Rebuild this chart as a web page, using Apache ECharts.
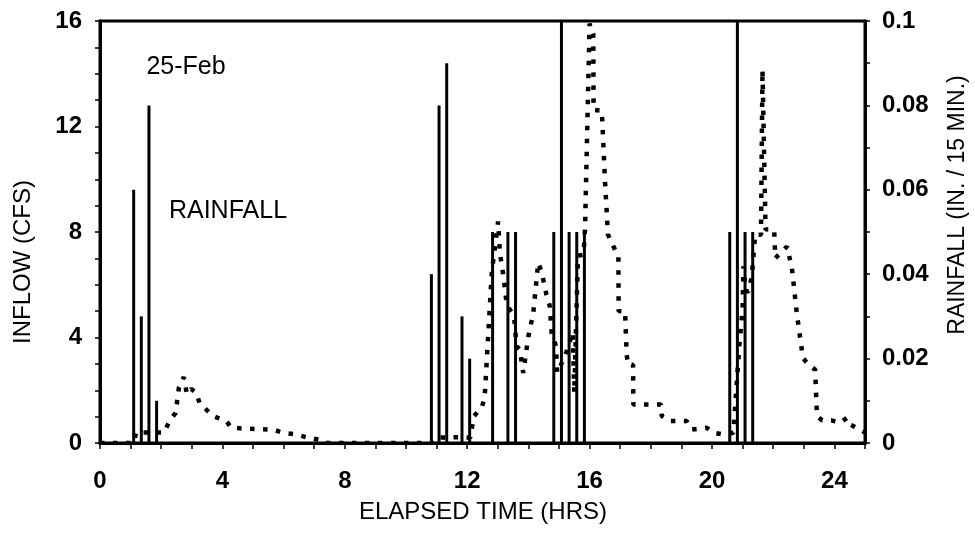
<!DOCTYPE html>
<html>
<head>
<meta charset="utf-8">
<script src="https://cdn.jsdelivr.net/npm/echarts@6/dist/echarts.min.js"></script>
<style>
  html, body { margin: 0; padding: 0; background: #fff; }
  #chart { width: 975px; height: 538px; }
</style>
</head>
<body>
<div id="chart"></div>
<script>
// Storm of 25-Feb: rainfall per 15-minute interval and runoff inflow hydrograph.

// Rainfall pulses: elapsed time (hrs) and depth (in. / 15 min.)
const rainTimes  = [1.10, 1.35, 1.60, 1.85,
                    10.83, 11.08, 11.33, 11.83, 12.08, 12.83, 13.33, 13.58,
                    14.83, 15.08, 15.33, 15.58, 15.83,
                    20.58, 20.83, 21.08, 21.33];
const rainDepths = [0.06, 0.03, 0.08, 0.01,
                    0.04, 0.08, 0.09, 0.03, 0.02, 0.05, 0.05, 0.05,
                    0.05, 0.10, 0.05, 0.05, 0.05,
                    0.05, 0.10, 0.05, 0.05];

// Inflow hydrograph: elapsed time (hrs) and flow (cfs)
const flowTimes = [0, 1.10, 1.18, 2.10, 2.27, 2.47, 2.58, 2.74, 2.84, 2.98, 3.15, 3.25, 3.47, 3.69,
  4.13, 4.29, 4.78, 5.65, 5.98, 6.42, 6.80, 7.16, 7.35, 10.85, 11.00, 11.60, 12.10,
  12.22, 12.47, 12.57, 12.80, 12.88, 13.01, 13.07, 13.20, 13.29, 13.45, 13.55, 13.61, 13.72, 13.83,
  14.00, 14.16, 14.32, 14.43, 14.59, 14.70, 14.76, 14.90, 14.94, 15.20, 15.45, 15.50, 15.56,
  15.62, 15.80, 15.85, 16.00, 16.12, 16.13, 16.40, 16.50, 16.60, 16.80, 16.94, 16.95, 17.16,
  17.21, 17.26, 17.42, 17.43, 18.33, 18.36, 18.63, 19.17, 19.34, 19.83, 20.05, 20.37, 20.70,
  20.89, 21.00, 21.03, 21.10, 21.20, 21.30, 21.41, 21.60, 21.65, 21.75, 22.03, 22.07, 22.45,
  22.61, 22.77, 22.97, 23.15, 23.37, 23.43, 23.60, 23.90, 24.19, 24.41, 24.52, 24.84, 25.00];
const flowValues = [0, 0, 0.40, 0.40, 0.83, 1.14, 2.10, 2.50, 1.85, 2.05, 1.90, 1.52, 1.27, 1.02,
  0.83, 0.58, 0.54, 0.51, 0.39, 0.32, 0.20, 0.13, 0, 0, 0.20, 0.22, 0.20,
  1.02, 1.33, 1.71, 6.40, 7.20, 8.40, 7.20, 6.20, 5.25, 4.95, 4.60, 3.67, 3.55, 2.66,
  4.05, 4.93, 6.83, 6.50, 5.62, 5.18, 4.17, 3.67, 2.66, 3.30, 4.20, 1.90, 1.90,
  7.10, 7.14, 8.09, 15.90, 15.50, 12.63, 12.60, 10.00, 7.90, 7.40, 7.08, 5.00, 4.99,
  3.35, 2.97, 2.97, 1.46, 1.46, 1.02, 0.83, 0.83, 0.51, 0.58, 0.39, 0.32, 0.39,
  3.67, 5.10, 6.70, 5.75, 5.75, 6.32, 7.90, 7.90, 14.15, 8.10, 8.09, 7.01, 7.45,
  6.64, 4.93, 3.23, 2.97, 2.78, 1.02, 0.86, 0.86, 0.77, 0.95, 0.70, 0.51, 0.40];

const FONT = '"Liberation Sans", Arial, sans-serif';

const rainData = rainTimes.map((t, i) => [t, rainDepths[i]]);
const flowData = flowTimes.map((t, i) => [t, flowValues[i]]);

const chart = echarts.init(document.getElementById('chart'), null, { renderer: 'canvas' });

const tickLabel = { color: '#000', fontFamily: FONT, fontSize: 24, fontWeight: 'bold' };

chart.setOption({
  backgroundColor: '#fff',
  animation: false,
  grid: {
    left: 100, right: 110, top: 21, bottom: 95,
    show: true, borderColor: '#000', borderWidth: 3, backgroundColor: 'transparent'
  },
  xAxis: {
    type: 'value', min: 0, max: 25, interval: 1,
    axisLine: { show: true, onZero: false, lineStyle: { color: '#000', width: 3 } },
    axisTick: { show: true, inside: false, length: 6, lineStyle: { color: '#000', width: 1.5 } },
    splitLine: { show: false },
    axisLabel: Object.assign({}, tickLabel, {
      margin: 26,
      formatter: v => (Math.round(v) % 4 === 0 && v < 25 ? String(Math.round(v)) : '')
    })
  },
  yAxis: [
    {
      type: 'value', min: 0, max: 16, interval: 1, position: 'left',
      axisLine: { show: true, lineStyle: { color: '#000', width: 3 } },
      axisTick: { show: true, inside: false, length: 5, lineStyle: { color: '#000', width: 1.5 } },
      splitLine: { show: false },
      axisLabel: Object.assign({}, tickLabel, {
        margin: 18,
        formatter: v => (Math.round(v) % 4 === 0 ? String(Math.round(v)) : '')
      })
    },
    {
      type: 'value', min: 0, max: 0.1, interval: 0.01, position: 'right',
      axisLine: { show: true, lineStyle: { color: '#000', width: 3 } },
      axisTick: { show: true, inside: false, length: 5, lineStyle: { color: '#000', width: 1.5 } },
      splitLine: { show: false },
      axisLabel: Object.assign({}, tickLabel, {
        margin: 17,
        formatter: v => {
          const k = Math.round(v * 100);
          return k % 2 === 0 ? String(k / 100) : '';
        }
      })
    }
  ],
  series: [
    {
      name: 'Rainfall',
      type: 'bar',
      yAxisIndex: 1,
      barWidth: 3,
      itemStyle: { color: '#000' },
      data: rainData,
      z: 3
    },
    {
      name: 'Inflow',
      type: 'line',
      yAxisIndex: 0,
      symbol: 'none',
      clip: true,
      lineStyle: { color: '#000', width: 4.5, type: [4.5, 8.5], cap: 'butt' },
      data: flowData,
      z: 4
    }
  ],
  graphic: [
    {
      type: 'text', x: 23, y: 262, rotation: Math.PI / 2,
      style: { text: 'INFLOW (CFS)', fill: '#000', font: '24px ' + FONT, align: 'center', verticalAlign: 'middle' }
    },
    {
      type: 'text', x: 958, y: 205, rotation: Math.PI / 2,
      style: { text: 'RAINFALL (IN. / 15 MIN.)', fill: '#000', font: '23px ' + FONT, align: 'center', verticalAlign: 'middle' }
    },
    {
      type: 'text', x: 483, y: 512,
      style: { text: 'ELAPSED TIME (HRS)', fill: '#000', font: '24px ' + FONT, align: 'center', verticalAlign: 'middle' }
    },
    {
      type: 'text', x: 186, y: 67,
      style: { text: '25-Feb', fill: '#000', font: '25px ' + FONT, align: 'center', verticalAlign: 'middle' }
    },
    {
      type: 'text', x: 228, y: 211,
      style: { text: 'RAINFALL', fill: '#000', font: '25px ' + FONT, align: 'center', verticalAlign: 'middle' }
    }
  ]
});
</script>
</body>
</html>
